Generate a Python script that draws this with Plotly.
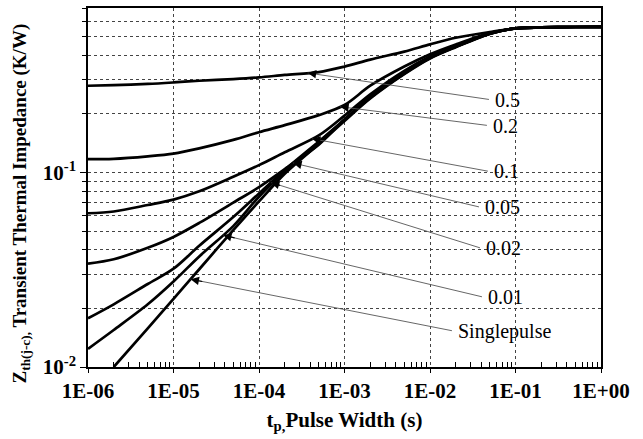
import numpy as np
import plotly.graph_objects as go

# ---------------- data ----------------
pulse_width = [1e-6, 2e-6, 5e-6, 1e-5, 2e-5, 5e-5, 1e-4, 2e-4, 5e-4, 1e-3,
               2e-3, 5e-3, 1e-2, 2e-2, 5e-2, 1e-1, 2e-1, 5e-1, 1.0]

z_d05 = [0.279, 0.281, 0.285, 0.290, 0.296, 0.302, 0.308, 0.317, 0.328, 0.350,
         0.380, 0.418, 0.455, 0.492, 0.527, 0.550, 0.556, 0.559, 0.560]
z_d02 = [0.117, 0.1175, 0.121, 0.125, 0.133, 0.147, 0.161, 0.175, 0.197, 0.222,
         0.279, 0.350, 0.405, 0.455, 0.520, 0.550, 0.556, 0.559, 0.560]
z_d01 = [0.0617, 0.063, 0.068, 0.0725, 0.080, 0.095, 0.109, 0.127, 0.155, 0.196,
         0.252, 0.333, 0.394, 0.449, 0.518, 0.550, 0.556, 0.559, 0.560]
z_d005 = [0.034, 0.0358, 0.041, 0.0466, 0.055, 0.070, 0.084, 0.104, 0.139, 0.187,
          0.244, 0.325, 0.389, 0.444, 0.518, 0.550, 0.556, 0.559, 0.560]
z_d002 = [0.0178, 0.021, 0.0267, 0.032, 0.042, 0.059, 0.078, 0.103, 0.144, 0.187,
          0.243, 0.323, 0.388, 0.443, 0.517, 0.550, 0.556, 0.559, 0.560]
z_d001 = [0.0124, 0.0155, 0.021, 0.0275, 0.037, 0.053, 0.075, 0.101, 0.143, 0.186,
          0.242, 0.322, 0.387, 0.442, 0.516, 0.550, 0.556, 0.559, 0.560]
single_t = pulse_width[1:]
z_single = [0.0100, 0.0158, 0.0224, 0.0318, 0.0505, 0.0710, 0.0985, 0.140, 0.184,
            0.240, 0.320, 0.385, 0.440, 0.515, 0.550, 0.556, 0.559, 0.560]

series_labels = ["0.5", "0.2", "0.1", "0.05", "0.02", "0.01", "Singlepulse"]
series_t = [pulse_width] * 6 + [single_t]
series_z = [z_d05, z_d02, z_d01, z_d005, z_d002, z_d001, z_single]

# where each leader arrow touches its curve (pulse width, s)
arrow_t = [10**-3.43, 10**-3.05, 10**-3.38, 10**-3.60, 10**-3.86, 10**-4.42, 10**-4.80]
# where each label sits (pulse width of text left edge, impedance of text centre)
label_t = [10**-1.263, 10**-1.287, 10**-1.275, 10**-1.380, 10**-1.368, 10**-1.345, 10**-1.696]
label_z = [10**-0.626, 10**-0.759, 10**-0.995, 10**-1.179, 10**-1.390, 10**-1.641, 10**-1.815]

x_tick_vals = [1e-6, 1e-5, 1e-4, 1e-3, 1e-2, 1e-1, 1.0]
x_tick_text = ["1E-06", "1E-05", "1E-04", "1E-03", "1E-02", "1E-01", "1E+00"]
y_tick_vals = [0.01, 0.1]
y_tick_text = ["10<sup>-2</sup>", "10<sup>-1</sup>"]
y_minor_vals = [0.02, 0.03, 0.04, 0.05, 0.06, 0.07, 0.08, 0.09,
                0.2, 0.3, 0.4, 0.5, 0.6, 0.7]

# ---------------- figure ----------------
fig = go.Figure()
for t, z in zip(series_t, series_z):
    fig.add_trace(go.Scatter(x=t, y=z, mode="lines",
                             line=dict(color="black", width=2.7, shape="spline", smoothing=0.9),
                             hoverinfo="skip", showlegend=False))

FONT = "Liberation Serif"
for lab, t, z, at, lt, lz in zip(series_labels, series_t, series_z, arrow_t, label_t, label_z):
    hx = np.log10(at)
    hy = np.interp(hx, np.log10(t), np.log10(z))
    tx = np.log10(lt) - 0.03
    ty = np.log10(lz)
    # thin grey leader line
    fig.add_annotation(x=hx, y=hy, ax=tx, ay=ty, axref="x", ayref="y",
                       xref="x", yref="y", text="", showarrow=True,
                       arrowhead=0, arrowwidth=0.9, arrowcolor="#555555")
    # small black arrow head at the curve
    f = 0.05
    fig.add_annotation(x=hx, y=hy, ax=hx + f * (tx - hx), ay=hy + f * (ty - hy),
                       axref="x", ayref="y", xref="x", yref="y", text="",
                       showarrow=True, arrowhead=2, arrowsize=1.4, arrowwidth=1.2,
                       arrowcolor="black")
    fig.add_annotation(x=np.log10(lt), y=ty, xref="x", yref="y", text=lab, showarrow=False,
                       xanchor="left", yanchor="middle",
                       font=dict(family=FONT, size=20, color="black"))

minor_x = [m * 10**e for e in range(-6, 0) for m in range(2, 10)]

fig.add_annotation(
    text="<b>Z<sub>th(j-c),</sub> Transient Thermal Impedance (K/W)</b>",
    xref="paper", yref="paper", x=-0.131, y=0.455, textangle=-90,
    showarrow=False, xanchor="center", yanchor="middle",
    font=dict(family=FONT, size=19, color="black"),
)

fig.update_layout(
    width=643, height=439,
    margin=dict(l=88, r=42, t=6, b=72),
    plot_bgcolor="white", paper_bgcolor="white",
    font=dict(family=FONT, color="black"),
    showlegend=False,
)
fig.update_xaxes(
    type="log", range=[-6, 0],
    tickvals=x_tick_vals, ticktext=x_tick_text,
    tickfont=dict(family=FONT, size=21, weight="bold", color="black"),
    showgrid=True, gridcolor="#444444", griddash="dot", gridwidth=1,
    showline=True, linecolor="black", linewidth=1.5, mirror=True,
    ticks="outside", ticklen=4, tickcolor="black",
    minor=dict(tickvals=minor_x, ticks="inside", ticklen=5, tickcolor="black", showgrid=False),
    zeroline=False,
    title=dict(text="<b>t<sub>p,</sub>Pulse Width (s)</b>",
               font=dict(family=FONT, size=21, color="black"), standoff=10),
)
fig.update_yaxes(
    type="log", range=[-2, np.log10(0.7)],
    tickvals=y_tick_vals, ticktext=y_tick_text,
    tickfont=dict(family=FONT, size=21, weight="bold", color="black"),
    showgrid=True, gridcolor="#444444", griddash="dot", gridwidth=1,
    showline=True, linecolor="black", linewidth=1.5, mirror=True,
    ticks="outside", ticklen=6, tickcolor="black",
    minor=dict(tickvals=y_minor_vals, ticks="outside", ticklen=4, tickcolor="black",
               showgrid=True, gridcolor="#444444", griddash="dot", gridwidth=1),
    zeroline=False,
)

fig.write_html("out.html")
